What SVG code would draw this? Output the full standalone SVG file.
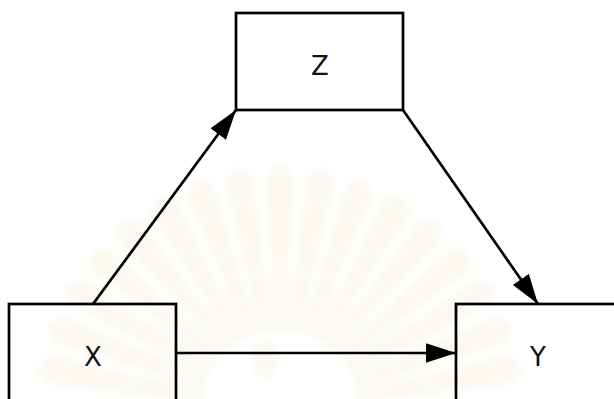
<svg xmlns="http://www.w3.org/2000/svg" width="614" height="399" viewBox="0 0 614 399">
  <style>
    .box { fill: none; stroke: #000; stroke-width: 2.7; }
    .label { font-family: "DejaVu Sans", Verdana, sans-serif; font-size: 26px; fill: #111; text-anchor: middle; dominant-baseline: central; }
    .edge { fill: none; stroke: #000; stroke-width: 2.7; marker-end: url(#arrow); }
    .ray { fill: #e3cf96; opacity: 0.13; }
  </style>
  <defs>
    <marker id="arrow" markerUnits="userSpaceOnUse" markerWidth="30" markerHeight="20" viewBox="0 0 28 18" refX="28" refY="9" orient="auto">
      <path d="M0,0 L28,9 L0,18 Z" fill="#000"/>
    </marker>
    <polygon id="ray" points="-6,-80 6,-80 14,-235 0,-248 -14,-235"/>
    <filter id="soft" x="-10%" y="-10%" width="120%" height="120%">
      <feGaussianBlur stdDeviation="3.5"/>
    </filter>
  </defs>

  <rect width="614" height="399" fill="#fff"/>

  <!-- faint background emblem -->
  <g id="emblem" class="ray" filter="url(#soft)" transform="translate(280 410)">
    <use href="#ray" transform="rotate(-80)"/>
    <use href="#ray" transform="rotate(-70)"/>
    <use href="#ray" transform="rotate(-60)"/>
    <use href="#ray" transform="rotate(-50)"/>
    <use href="#ray" transform="rotate(-40)"/>
    <use href="#ray" transform="rotate(-30)"/>
    <use href="#ray" transform="rotate(-20)"/>
    <use href="#ray" transform="rotate(-10)"/>
    <use href="#ray" transform="rotate(0)"/>
    <use href="#ray" transform="rotate(10)"/>
    <use href="#ray" transform="rotate(20)"/>
    <use href="#ray" transform="rotate(30)"/>
    <use href="#ray" transform="rotate(40)"/>
    <use href="#ray" transform="rotate(50)"/>
    <use href="#ray" transform="rotate(60)"/>
    <use href="#ray" transform="rotate(70)"/>
    <use href="#ray" transform="rotate(80)"/>
    <ellipse cx="-15" cy="-50" rx="14" ry="18"/>
  </g>

  <!-- connectors -->
  <g id="connectors">
    <line class="edge" x1="93" y1="304" x2="236" y2="110"/>
    <line class="edge" x1="403" y1="110" x2="538" y2="304"/>
    <line class="edge" x1="176" y1="353" x2="456" y2="353"/>
  </g>

  <g id="node-z">
    <rect class="box" x="236" y="13" width="167" height="97"/>
    <text class="label" x="320" y="66">Z</text>
  </g>
  <g id="node-x">
    <rect class="box" x="9" y="304" width="167" height="110"/>
    <text class="label" x="93" y="357">X</text>
  </g>
  <g id="node-y">
    <rect class="box" x="456" y="304" width="170" height="110"/>
    <text class="label" x="538" y="357">Y</text>
  </g>
</svg>
